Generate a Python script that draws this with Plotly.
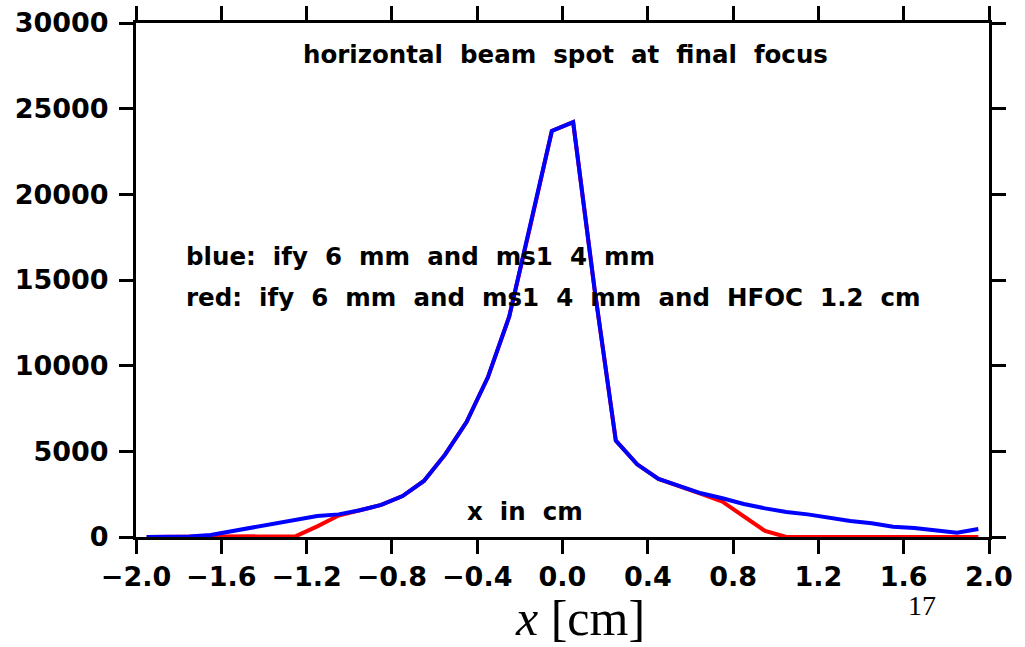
import plotly.graph_objects as go

# bin centres (cm)
x_cm = [-1.95, -1.85, -1.75, -1.65, -1.55, -1.45, -1.35, -1.25, -1.15, -1.05,
        -0.95, -0.85, -0.75, -0.65, -0.55, -0.45, -0.35, -0.25, -0.15, -0.05,
        0.05, 0.15, 0.25, 0.35, 0.45, 0.55, 0.65, 0.75, 0.85, 0.95,
        1.05, 1.15, 1.25, 1.35, 1.45, 1.55, 1.65, 1.75, 1.85, 1.95]

blue_counts = [0, 0, 30, 120, 350, 580, 800, 1000, 1230, 1320,
               1560, 1870, 2390, 3270, 4820, 6710, 9320, 12860, 18200, 23700,
               24210, 14500, 5620, 4240, 3390, 2980, 2550, 2260, 1930, 1670,
               1460, 1320, 1130, 930, 800, 600, 525, 390, 250, 470]

red_counts = [0, 0, 0, 0, 0, 0, 0, 50, 620, 1250,
              1560, 1870, 2390, 3270, 4820, 6710, 9320, 12860, 18200, 23700,
              24210, 14500, 5620, 4240, 3390, 2980, 2520, 2060, 1210, 350,
              0, 0, 0, 0, 0, 0, 0, 0, 0, 0]

x_ticks = [-2.0, -1.6, -1.2, -0.8, -0.4, 0.0, 0.4, 0.8, 1.2, 1.6, 2.0]
y_ticks = [0, 5000, 10000, 15000, 20000, 25000, 30000]

title_text = "horizontal\u00a0 beam\u00a0 spot\u00a0 at\u00a0 final\u00a0 focus"
blue_label = "blue:\u00a0 ify\u00a0 6\u00a0 mm\u00a0 and\u00a0 ms1\u00a0 4\u00a0 mm"
red_label = "red:\u00a0 ify\u00a0 6\u00a0 mm\u00a0 and\u00a0 ms1\u00a0 4\u00a0 mm\u00a0 and\u00a0 HFOC\u00a0 1.2\u00a0 cm"
inner_xlabel = "x\u00a0 in\u00a0 cm"

FONT = "DejaVu Sans"

fig = go.Figure()
fig.add_trace(go.Scatter(x=x_cm, y=red_counts, mode="lines",
                         line=dict(color="#ff0000", width=4), showlegend=False))
fig.add_trace(go.Scatter(x=x_cm, y=blue_counts, mode="lines",
                         line=dict(color="#0000ff", width=4), showlegend=False))

axis_common = dict(showline=True, linecolor="black", linewidth=3, mirror="ticks",
                   ticks="outside", ticklen=14, tickwidth=3, tickcolor="black",
                   showgrid=False, zeroline=False, automargin=False,
                   tickfont=dict(family=FONT, size=27, color="black", weight="bold"))

fig.update_xaxes(range=[-2.0, 2.0], tickvals=x_ticks,
                 ticktext=[f"{v:.1f}".replace("-", "\u2212") for v in x_ticks],
                 ticklabelstandoff=0, **axis_common)
fig.update_yaxes(range=[0, 30000], tickvals=y_ticks,
                 ticktext=[str(v) for v in y_ticks], ticklabelstandoff=5,
                 **axis_common)

ann_font = dict(family=FONT, size=24.5, color="black", weight="bold")
fig.add_annotation(text=title_text, xref="paper", yref="paper", x=0.504, y=0.938,
                   showarrow=False, font=ann_font, xanchor="center", yanchor="middle")
fig.add_annotation(text=blue_label, xref="paper", yref="paper", x=0.056, y=0.545,
                   showarrow=False, font=ann_font, xanchor="left", yanchor="middle")
fig.add_annotation(text=red_label, xref="paper", yref="paper", x=0.056, y=0.465,
                   showarrow=False, font=ann_font, xanchor="left", yanchor="middle")
fig.add_annotation(text=inner_xlabel, xref="paper", yref="paper", x=0.456, y=0.049,
                   showarrow=False, font=ann_font, xanchor="center", yanchor="middle")
fig.add_annotation(text="<i>x</i> [cm]", xref="paper", yref="paper", x=0.5205, y=-0.1576,
                   showarrow=False, xanchor="center", yanchor="middle",
                   font=dict(family="Liberation Serif", size=50, color="black"))
fig.add_annotation(text="17", xref="paper", yref="paper", x=0.922, y=-0.134,
                   showarrow=False, xanchor="center", yanchor="middle",
                   font=dict(family="Liberation Serif", size=28, color="black"))

fig.update_layout(width=1025, height=647, margin=dict(l=136, r=36, t=23, b=110),
                  paper_bgcolor="white", plot_bgcolor="white")

fig.write_html("out.html")
